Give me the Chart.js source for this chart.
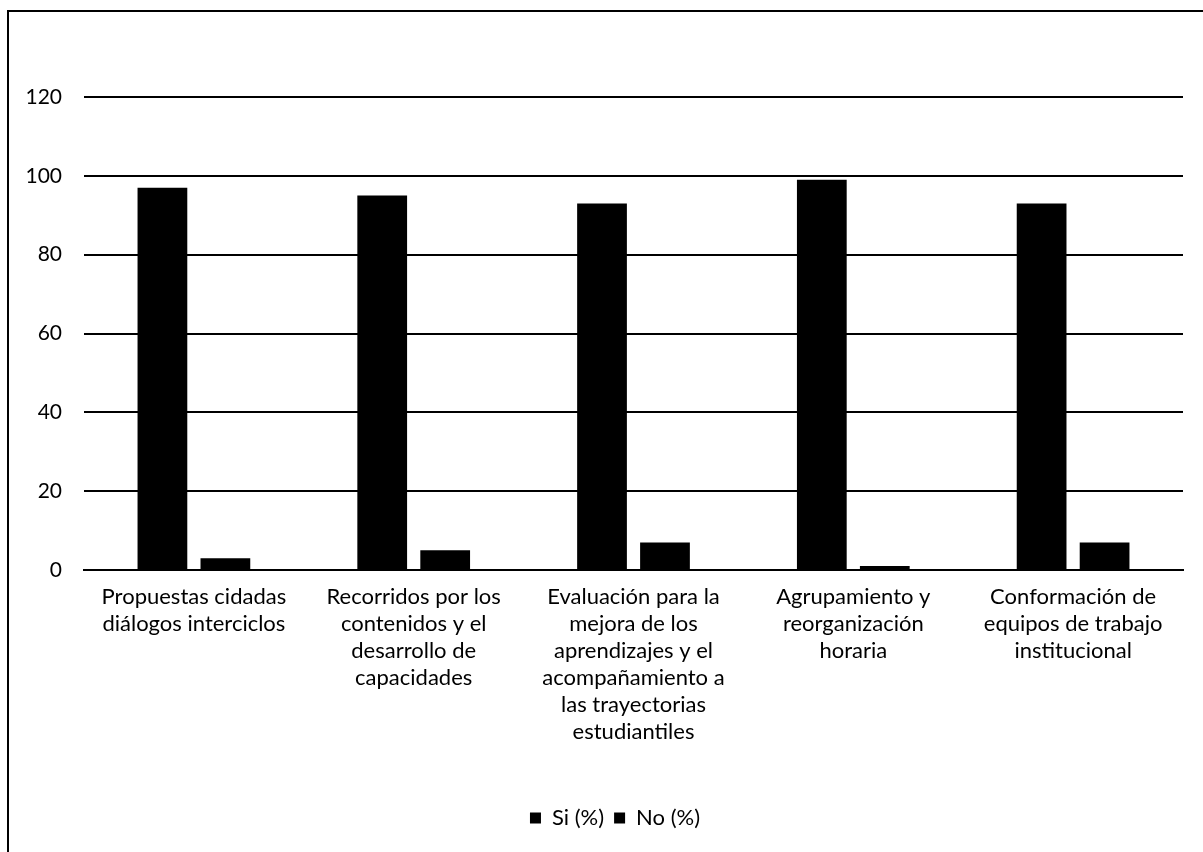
<!DOCTYPE html>
<html>
<head>
<meta charset="utf-8">
<script src="https://cdn.jsdelivr.net/npm/chart.js@4.4.1/dist/chart.umd.min.js"></script>
<style>
  html, body { margin: 0; padding: 0; background: #fff; }
  #wrap { position: relative; width: 1203px; height: 852px; }
  #frame { position: absolute; left: 7px; top: 10px; right: 0; bottom: 0; border-top: 2px solid #000; border-left: 2px solid #000; pointer-events: none; }
</style>
</head>
<body>
<div id="wrap">
  <canvas id="chart" width="1203" height="852"></canvas>
  <div id="frame"></div>
</div>
<script>
// ============ 数据 ============
const categories = [
  ['Propuestas cidadas', 'diálogos interciclos'],
  ['Recorridos por los', 'contenidos y el', 'desarrollo de', 'capacidades'],
  ['Evaluación para la', 'mejora de los', 'aprendizajes y el', 'acompañamiento a', 'las trayectorias', 'estudiantiles'],
  ['Agrupamiento y', 'reorganización', 'horaria'],
  ['Conformación de', 'equipos de trabajo', 'institucional']
];
const siValues = [97, 95, 93, 99, 93];
const noValues = [3, 5, 7, 1, 7];
const yTicks = [0, 20, 40, 60, 80, 100, 120];

const FONT = 'Lato, "Open Sans", sans-serif';

// 图例右移一点，对准原图
const legendShift = {
  id: 'legendShift',
  afterLayout(chart) {
    if (chart.legend) chart.legend.left += 20;
  }
};

const ctx = document.getElementById('chart');
new Chart(ctx, {
  type: 'bar',
  data: {
    labels: categories,
    datasets: [
      { label: 'Si (%)', data: siValues, backgroundColor: '#000', borderWidth: 0, categoryPercentage: 0.573, barPercentage: 0.79 },
      { label: 'No (%)', data: noValues, backgroundColor: '#000', borderWidth: 0, categoryPercentage: 0.573, barPercentage: 0.79 }
    ]
  },
  plugins: [legendShift],
  options: {
    responsive: false,
    animation: false,
    layout: { padding: { left: 27, right: 20, top: 97, bottom: 13 } },
    plugins: {
      tooltip: { enabled: false },
      legend: {
        position: 'bottom',
        labels: {
          boxWidth: 11, boxHeight: 11, padding: 10,
          color: '#000', font: { family: FONT, size: 22 }
        }
      }
    },
    scales: {
      x: {
        grid: { display: false, drawTicks: false },
        border: { display: true, color: '#000', width: 2 },
        ticks: { color: '#000', padding: 13, maxRotation: 0, autoSkip: false, font: { family: FONT, size: 22, lineHeight: 1.23 } },
        afterFit: s => { s.height = 227; }
      },
      y: {
        min: 0, max: 120,
        afterBuildTicks: s => { s.ticks = yTicks.map(v => ({ value: v })); },
        grid: { color: '#000', lineWidth: 2, drawTicks: false },
        border: { display: false },
        ticks: { color: '#000', padding: 22, font: { family: FONT, size: 21 } },
        afterFit: s => { s.width = 57; }
      }
    }
  }
});
</script>
</body>
</html>
